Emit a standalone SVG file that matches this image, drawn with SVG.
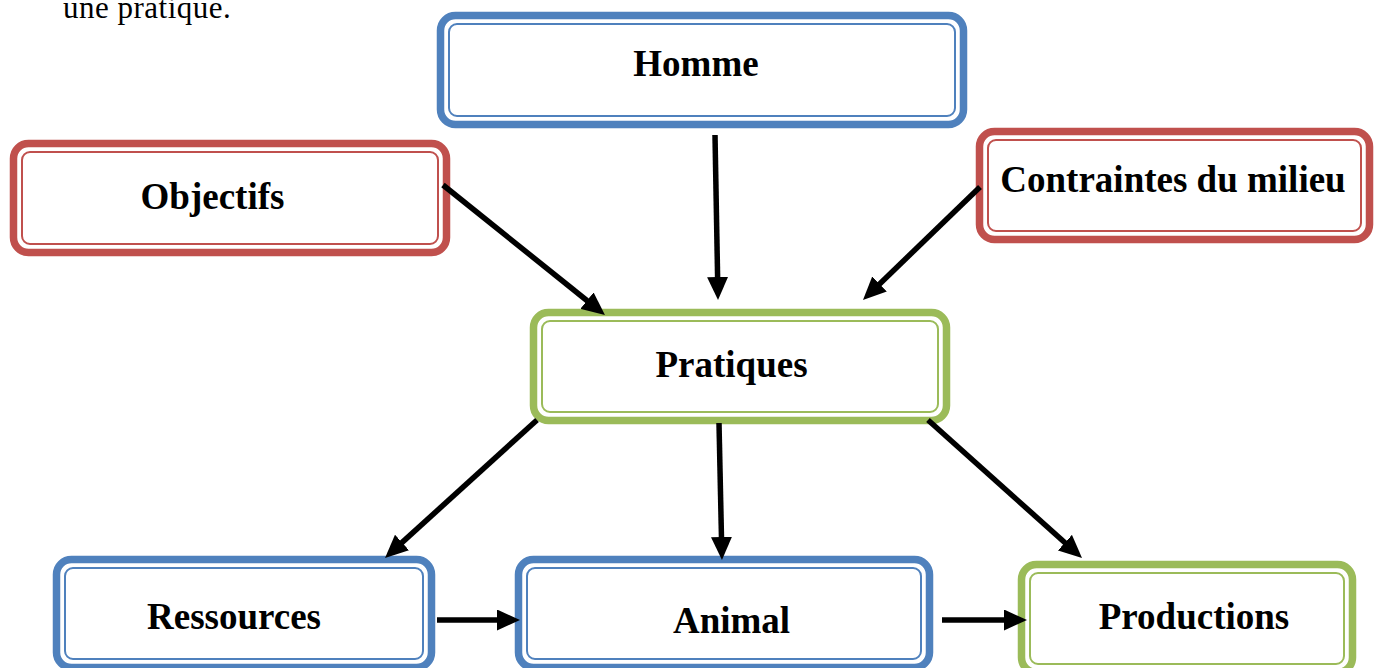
<svg xmlns="http://www.w3.org/2000/svg" width="1379" height="668" viewBox="0 0 1379 668">
<style>
.o{fill:#fff;stroke-width:7.5}
.i{fill:none;stroke-width:2}
.b{stroke:#4F81BD}
.r{stroke:#C0504D}
.g{stroke:#9BBB59}
.t{font-family:"Liberation Serif","Times New Roman",serif;font-weight:bold;font-size:37px;fill:#000;text-anchor:middle}
.c line{stroke:#000;stroke-width:5.5;marker-end:url(#ah)}
</style>
<defs>
<marker id="ah" markerUnits="userSpaceOnUse" markerWidth="23" markerHeight="21" refX="11" refY="10.5" orient="auto">
<path d="M0,0 L23,10.5 L0,21 z" fill="#000"/>
</marker>
</defs>
<rect width="1379" height="668" fill="#fff"/>
<text x="63" y="18" font-family="Liberation Serif,serif" font-size="31" letter-spacing="0.5" fill="#000">une pratique.</text>
<g id="homme">
<rect class="o b" x="440.5" y="15.5" width="523" height="109" rx="15"/>
<rect class="i b" x="449" y="24" width="506" height="92" rx="8"/>
<text class="t" x="696" y="76">Homme</text>
</g>
<g id="objectifs">
<rect class="o r" x="13.5" y="143.5" width="433" height="109" rx="15"/>
<rect class="i r" x="22" y="152" width="416" height="92" rx="8"/>
<text class="t" x="212.5" y="209">Objectifs</text>
</g>
<g id="contraintes">
<rect class="o r" x="979.5" y="131.5" width="390" height="108" rx="15"/>
<rect class="i r" x="988" y="140" width="373" height="91" rx="8"/>
<text class="t" x="1173" y="192">Contraintes du milieu</text>
</g>
<g id="pratiques">
<rect class="o g" x="533.5" y="312.5" width="413" height="108" rx="15"/>
<rect class="i g" x="542" y="321" width="396" height="91" rx="8"/>
<text class="t" x="731.5" y="377">Pratiques</text>
</g>
<g id="ressources">
<rect class="o b" x="56.5" y="559.5" width="375" height="108" rx="15"/>
<rect class="i b" x="65" y="568" width="358" height="91" rx="8"/>
<text class="t" x="234" y="629">Ressources</text>
</g>
<g id="animal">
<rect class="o b" x="518.5" y="559.5" width="411" height="108" rx="15"/>
<rect class="i b" x="527" y="568" width="394" height="91" rx="8"/>
<text class="t" x="731.5" y="633">Animal</text>
</g>
<g id="productions">
<rect class="o g" x="1021.5" y="564.5" width="331" height="108" rx="15"/>
<rect class="i g" x="1030" y="573" width="314" height="91" rx="8"/>
<text class="t" x="1194" y="629">Productions</text>
</g>
<g id="connectors" class="c">
<line x1="715" y1="135" x2="717.8" y2="288"/>
<line x1="443" y1="185" x2="595.6" y2="307.5"/>
<line x1="980" y1="187" x2="871.6" y2="291.7"/>
<line x1="537" y1="420" x2="393.9" y2="549.9"/>
<line x1="719" y1="423" x2="721.7" y2="548"/>
<line x1="928" y1="420" x2="1073.1" y2="550"/>
<line x1="437" y1="620" x2="508" y2="620"/>
<line x1="942" y1="620" x2="1015" y2="620"/>
</g>
</svg>
